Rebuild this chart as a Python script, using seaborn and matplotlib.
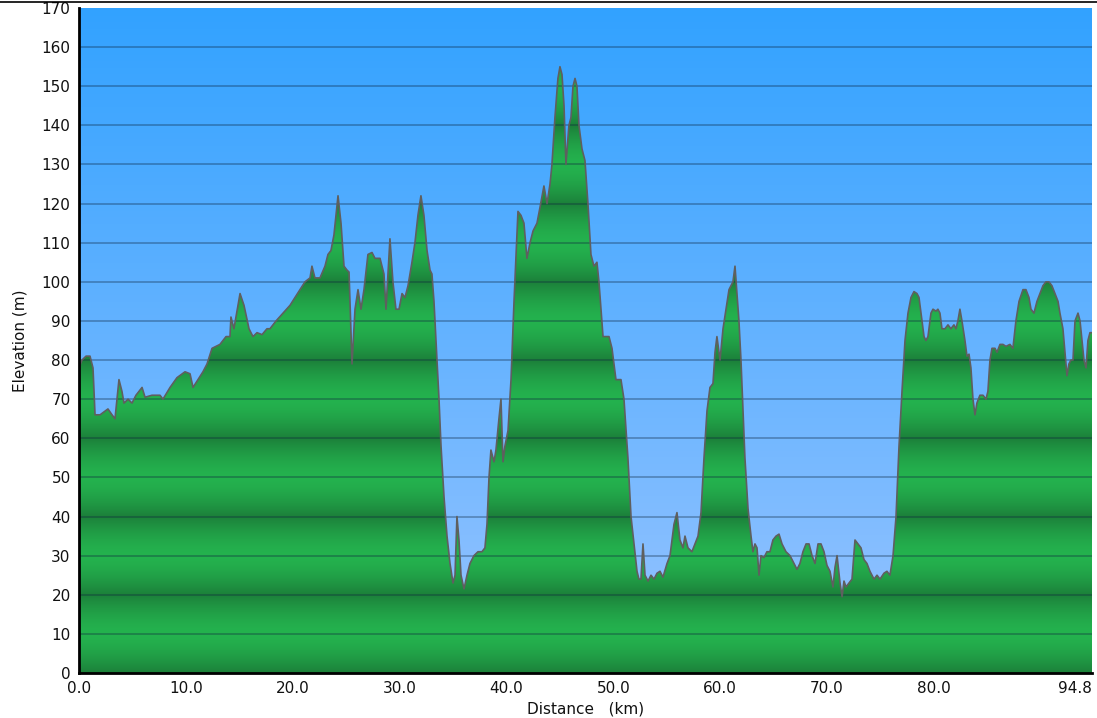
import numpy as np
import matplotlib
matplotlib.use("Agg")
import matplotlib.pyplot as plt
from matplotlib.lines import Line2D
import seaborn as sns
import pandas as pd

distance_km = [
    0.00, 0.28, 0.66, 1.03, 1.31, 1.50, 1.97, 2.71, 3.09, 3.37, 3.74, 4.02, 4.21, 4.59, 4.96, 5.33,
    5.90, 6.18, 6.83, 7.58, 7.86, 8.52, 9.17, 9.92, 10.39, 10.67, 11.14, 11.60, 11.98, 12.45, 13.19,
    13.76, 14.13, 14.22, 14.50, 15.07, 15.44, 15.91, 16.28, 16.66, 17.13, 17.59, 17.87, 18.44, 19.09,
    19.75, 20.21, 20.68, 21.15, 21.62, 21.80, 22.08, 22.55, 23.02, 23.30, 23.58, 23.86, 24.24, 24.52,
    24.80, 25.08, 25.27, 25.55, 25.83, 26.11, 26.39, 26.67, 27.04, 27.42, 27.70, 28.17, 28.54, 28.73,
    29.10, 29.38, 29.66, 29.95, 30.23, 30.51, 30.79, 31.16, 31.44, 31.72, 32.00, 32.28, 32.57, 32.85,
    33.03, 33.22, 33.50, 33.69, 33.88, 34.16, 34.44, 34.72, 35.00, 35.19, 35.37, 35.56, 35.75, 36.03,
    36.31, 36.59, 36.96, 37.34, 37.71, 37.99, 38.18, 38.37, 38.55, 38.84, 39.02, 39.30, 39.49, 39.68,
    39.86, 40.15, 40.43, 40.71, 41.08, 41.36, 41.64, 41.92, 42.21, 42.49, 42.86, 43.14, 43.51, 43.80,
    44.08, 44.26, 44.54, 44.82, 45.01, 45.20, 45.39, 45.57, 45.85, 46.04, 46.23, 46.42, 46.60, 46.79,
    47.07, 47.35, 47.63, 47.91, 48.19, 48.47, 48.66, 49.04, 49.60, 49.88, 50.25, 50.72, 51.00, 51.37,
    51.66, 51.94, 52.22, 52.40, 52.59, 52.78, 52.97, 53.25, 53.53, 53.81, 54.09, 54.37, 54.65, 55.03,
    55.31, 55.68, 55.96, 56.24, 56.52, 56.71, 56.99, 57.36, 57.65, 57.93, 58.21, 58.49, 58.77, 59.05,
    59.33, 59.52, 59.70, 59.99, 60.27, 60.55, 60.83, 61.01, 61.20, 61.39, 61.58, 61.76, 61.95, 62.14,
    62.32, 62.61, 62.89, 63.07, 63.26, 63.45, 63.64, 63.82, 64.10, 64.38, 64.66, 64.94, 65.23, 65.51,
    65.79, 66.16, 66.54, 66.91, 67.19, 67.47, 67.75, 68.04, 68.32, 68.60, 68.88, 69.16, 69.44, 69.72,
    70.00, 70.28, 70.56, 70.75, 70.94, 71.22, 71.41, 71.59, 71.78, 72.06, 72.34, 72.62, 72.90, 73.18,
    73.46, 73.74, 74.02, 74.40, 74.68, 74.96, 75.33, 75.61, 75.89, 76.18, 76.46, 76.74, 77.02, 77.30,
    77.58, 77.86, 78.14, 78.42, 78.61, 78.80, 79.08, 79.26, 79.45, 79.73, 79.92, 80.20, 80.38, 80.57,
    80.76, 81.04, 81.32, 81.60, 81.88, 82.07, 82.25, 82.44, 82.63, 82.91, 83.10, 83.29, 83.47, 83.66,
    83.85, 84.03, 84.31, 84.60, 84.88, 85.06, 85.25, 85.44, 85.72, 85.91, 86.19, 86.47, 86.75, 87.12,
    87.40, 87.68, 87.97, 88.34, 88.62, 88.90, 89.09, 89.37, 89.65, 89.93, 90.21, 90.49, 90.77, 91.05,
    91.33, 91.62, 91.80, 92.08, 92.27, 92.46, 92.64, 92.83, 93.02, 93.21, 93.49, 93.68, 93.86, 94.05,
    94.24, 94.42, 94.61, 94.80,
]

elevation_m = [
    78, 80, 81, 81, 78, 66, 66, 67.5, 66, 65, 75, 72, 69, 70, 69, 71,
    73, 70.5, 71, 71, 70, 73, 75.5, 77, 76.5, 73, 75, 77, 79, 83, 84,
    86, 86, 91, 88, 97, 94, 88, 86, 87, 86.5, 88, 88, 90, 92,
    94, 96, 98, 100, 101, 104, 101, 101, 104, 107, 108, 112, 122, 115,
    104, 103, 102.5, 79, 93, 98, 93, 98, 107, 107.5, 106, 106, 102, 93,
    111, 100, 93, 93, 97, 96, 99, 105, 110, 117, 122, 117, 108, 103,
    102, 95, 80, 70, 58, 45, 35, 28, 23, 25, 40, 34, 25, 21.5,
    25, 28, 30, 31, 31, 32, 38, 50, 57, 54, 57, 65, 70, 54,
    58, 62, 75, 95, 118, 117, 115, 106, 110, 113, 115, 119, 124.5, 120,
    125, 130, 142, 152, 155, 153, 145, 130, 140, 142, 150, 152, 150, 140,
    134, 131, 120, 107, 104, 105, 100, 86, 86, 83, 75, 75, 70, 55,
    40, 33, 26, 24, 24, 33, 25, 23.5, 25, 24, 25.5, 26, 24.5, 28,
    30, 38, 41, 34, 32, 35, 32, 31, 33, 35, 41, 55, 67, 73,
    74, 82, 86, 80, 88, 93, 98, 99, 100, 104, 97, 90, 80, 67,
    55, 42, 35, 31, 33, 32, 25, 30, 29.5, 31, 31, 34, 35, 35.5,
    33, 31, 30, 28, 26.5, 28, 31, 33, 33, 30, 28, 33, 33, 31,
    27.5, 26, 22, 27, 30, 23, 19.5, 23.5, 22, 23, 24, 34, 33, 32,
    29, 28, 26, 24, 25, 24, 25.5, 26, 25, 30, 40, 58, 72, 85,
    92, 96, 97.5, 97, 96, 92, 86, 85, 86, 92, 93, 92.5, 93, 92,
    88, 88, 89, 88, 89, 88, 90, 93, 90, 85, 81, 81.5, 78, 70,
    66, 69, 71, 71, 70, 72, 80, 83, 83, 82, 84, 84, 83.5, 84,
    83, 90, 95, 98, 98, 96, 93, 92, 95, 97, 99, 100, 100, 99,
    97, 95, 92, 88, 82, 76, 79, 80, 80, 90, 92, 90, 85, 80,
    78, 85, 87, 87,
]

x_ticks = [0.0, 10.0, 20.0, 30.0, 40.0, 50.0, 60.0, 70.0, 80.0, 94.8]
y_ticks = list(range(0, 171, 10))

df = pd.DataFrame({"Distance": distance_km, "Elevation": elevation_m})

sns.set_style("white")
plt.rcParams["font.family"] = ["DejaVu Sans"]

W, H = 1097, 718
fig = plt.figure(figsize=(W / 100, H / 100), dpi=100)
ax = fig.add_axes([79 / W, 45 / H, (1092 - 79) / W, (673 - 8) / H])

xmax, ymax = 94.8, 170
ax.set_xlim(0, xmax)
ax.set_ylim(0, ymax)

# sky gradient background
top = np.array([50, 162, 255]) / 255
bot = np.array([152, 196, 255]) / 255
t = np.linspace(0, 1, 256)[:, None]
sky = top[None, :] * (1 - t) + bot[None, :] * t
ax.imshow(sky[:, None, :], extent=[0, xmax, 0, ymax], aspect="auto", zorder=0, interpolation="bilinear")

# green banded gradient clipped to profile
poly = ax.fill_between(df["Distance"], df["Elevation"], 0, facecolor="none", edgecolor="none", zorder=1)
yy = np.linspace(ymax, 0, 1200)
phase = np.abs(((yy / 20.0) % 1.0) - 0.5) * 2  # 1 at multiples of 20, 0 at odd 10s
dark = np.array([28, 128, 58]) / 255
light = np.array([36, 178, 78]) / 255
w = phase[:, None] ** 1.6
green = light[None, :] * (1 - w) + dark[None, :] * w
im = ax.imshow(green[:, None, :], extent=[0, xmax, 0, ymax], aspect="auto", zorder=2, interpolation="bilinear")
im.set_clip_path(poly.get_paths()[0], transform=ax.transData)

# grid lines
for yv in y_ticks[1:-1]:
    ax.axhline(yv, color=(0.05, 0.15, 0.25, 0.35), linewidth=1.3, zorder=3)

# outline
sns.lineplot(data=df, x="Distance", y="Elevation", color="#5f5f5f", linewidth=1.2,
             sort=False, estimator=None, ax=ax, zorder=4)

ax.set_xticks(x_ticks)
ax.set_xticklabels([f"{v:.1f}" for v in x_ticks])
ax.get_xticklabels()[-1].set_horizontalalignment("right")
ax.set_yticks(y_ticks)
ax.tick_params(axis="both", direction="out", length=4, width=1.5, color="black",
               labelsize=11, labelcolor="#111111", pad=2)
for s in ["top", "right"]:
    ax.spines[s].set_visible(False)
for s in ["left", "bottom"]:
    ax.spines[s].set_color("black")
    ax.spines[s].set_linewidth(2)
    ax.spines[s].set_zorder(6)

ax.set_xlabel("Distance   (km)", fontsize=11, labelpad=4, color="#111111")
ax.set_ylabel("Elevation (m)", fontsize=11, labelpad=10, color="#111111")

fig.add_artist(Line2D([0, 1], [1 - 2 / H, 1 - 2 / H], color="black", linewidth=1.2, transform=fig.transFigure))

fig.savefig("out.png", dpi=100)
